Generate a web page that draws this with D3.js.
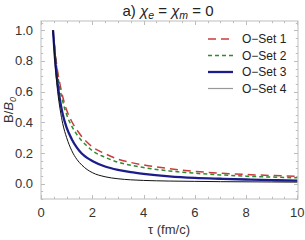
<!DOCTYPE html>
<html><head><meta charset="utf-8">
<script src="https://cdn.jsdelivr.net/npm/d3@7"></script>
<style>body{margin:0;background:#fff}svg{display:block;font-family:"Liberation Sans",Arial,sans-serif}</style>
</head><body>
<svg id="c" width="305" height="240"></svg>
<script>
const tau   = [0.47,0.55,0.65,0.75,0.85,1.0,1.2,1.4,1.6,1.8,2.0,2.5,3.0,3.5,4.0,5.0,6.0,7.0,8.0,9.0,10.0];
const set1  = [1.0,0.86,0.73,0.64,0.565,0.48,0.405,0.35,0.305,0.27,0.24,0.195,0.16,0.138,0.122,0.098,0.08,0.068,0.06,0.053,0.048];
const set2  = [1.0,0.85,0.71,0.61,0.535,0.45,0.375,0.32,0.278,0.245,0.215,0.172,0.14,0.12,0.105,0.083,0.068,0.057,0.049,0.043,0.038];
const set3  = [1.0,0.81,0.65,0.535,0.45,0.365,0.29,0.235,0.195,0.168,0.148,0.112,0.09,0.075,0.064,0.048,0.038,0.032,0.027,0.023,0.02];
const set4  = [1.0,0.78,0.6,0.48,0.39,0.3,0.215,0.158,0.12,0.092,0.072,0.045,0.032,0.025,0.021,0.017,0.015,0.013,0.012,0.011,0.01];
const seriesNames = ["O\u2212Set 1","O\u2212Set 2","O\u2212Set 3","O\u2212Set 4"];
const xTicks = [0,2,4,6,8,10];
const yTicks = [0.0,0.2,0.4,0.6,0.8,1.0];

const svg = d3.select("#c");
const L=41,R=298,T=21,B=199;
const x = d3.scaleLinear().domain([0,10]).range([41,297.3]);
const y = d3.scaleLinear().domain([-0.1,1.06]).range([B,T]);

const styles = [
  {color:"#cc3b3b", w:1.5, dash:"8,5"},
  {color:"#2e8b2e", w:1.5, dash:"4,3"},
  {color:"#1c1c8a", w:2.3, dash:null},
  {color:"#111111", w:1.0, dash:null}
];
const data=[set1,set2,set3,set4];

// frame
svg.append("rect").attr("x",L).attr("y",T).attr("width",R-L).attr("height",B-T)
  .attr("fill","none").attr("stroke","#bdbdbd").attr("stroke-width",1);

// ticks
const tickG = svg.append("g").attr("stroke","#bdbdbd").attr("stroke-width",1);
d3.range(0,10.01,0.5).forEach(v=>{
  const major = Math.abs(v/2-Math.round(v/2))<1e-6;
  const len = major?4:2.2;
  const px = Math.round(x(v))+0.5;
  tickG.append("line").attr("x1",px).attr("x2",px).attr("y1",B).attr("y2",B-len);
  tickG.append("line").attr("x1",px).attr("x2",px).attr("y1",T).attr("y2",T+len);
});
d3.range(-0.1,1.06,0.05).forEach(v=>{
  const major = Math.abs(v/0.2-Math.round(v/0.2))<1e-6;
  const len = major?4:2.2;
  const py = Math.round(y(v))+0.5;
  tickG.append("line").attr("y1",py).attr("y2",py).attr("x1",L).attr("x2",L+len);
  tickG.append("line").attr("y1",py).attr("y2",py).attr("x1",R).attr("x2",R-len);
});

// tick labels
svg.append("g").selectAll("text").data(xTicks).join("text")
  .attr("x",d=>x(d)).attr("y",217).attr("text-anchor","middle")
  .attr("font-size",13).attr("fill","#333").text(d=>d);
svg.append("g").selectAll("text").data(yTicks).join("text")
  .attr("x",33).attr("y",d=>y(d)+4.6).attr("text-anchor","end")
  .attr("font-size",13).attr("fill","#333").text(d=>d.toFixed(1));

// axis titles
const yl = svg.append("text").attr("transform","translate(13,110) rotate(-90)")
  .attr("text-anchor","middle").attr("font-size",13).attr("fill","#333");
yl.append("tspan").text("B/");
yl.append("tspan").attr("font-style","italic").text("B");
yl.append("tspan").attr("font-size",9).attr("dy",3).attr("font-style","italic").text("0");
svg.append("text").attr("x",169).attr("y",234).attr("text-anchor","middle")
  .attr("font-size",13).attr("fill","#333").text("\u03c4 (fm/c)");

// title
const t = svg.append("text").attr("x",168).attr("y",16).attr("text-anchor","middle")
  .attr("font-size",15).attr("fill","#222");
t.append("tspan").text("a) ");
t.append("tspan").attr("font-style","italic").text("\u03c7");
t.append("tspan").attr("font-size",10.5).attr("dy",3).attr("font-style","italic").text("e");
t.append("tspan").attr("dy",-3).text(" = ");
t.append("tspan").attr("font-style","italic").text("\u03c7");
t.append("tspan").attr("font-size",10.5).attr("dy",3).attr("font-style","italic").text("m");
t.append("tspan").attr("dy",-3).text(" = 0");

// curves
svg.append("clipPath").attr("id","cp").append("rect")
  .attr("x",L).attr("y",T).attr("width",R-L).attr("height",B-T);
const line = d3.line().x((d,i)=>x(tau[i])).y(d=>y(d)).curve(d3.curveMonotoneX);
data.forEach((s,k)=>{
  svg.append("path").attr("d",line(s)).attr("fill","none")
    .attr("clip-path","url(#cp)")
    .attr("stroke",styles[k].color).attr("stroke-width",styles[k].w)
    .attr("stroke-dasharray",styles[k].dash);
});

// legend
const ly=[39,55.5,72,88.5];
seriesNames.forEach((n,k)=>{
  svg.append("line").attr("x1",208).attr("x2",233).attr("y1",ly[k]).attr("y2",ly[k])
    .attr("stroke",k===3?"#999":styles[k].color).attr("stroke-width",k===3?1.2:styles[k].w)
    .attr("stroke-dasharray",styles[k].dash);
  svg.append("text").attr("x",242).attr("y",ly[k]+4).attr("font-size",12)
    .attr("fill","#222").text(n);
});
</script>
</body></html>
